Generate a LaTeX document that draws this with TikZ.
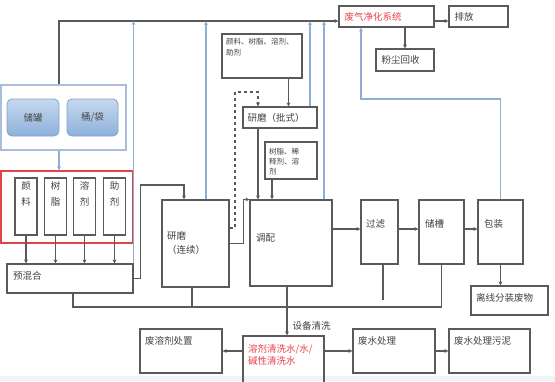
\documentclass[tikz,border=0pt]{standalone}
\usepackage{fontspec}
\newfontfamily\cjk{Noto Sans CJK SC}
\usetikzlibrary{positioning,arrows.meta,calc}
\definecolor{lngray}{HTML}{5A5A5A}
\definecolor{lnblue}{HTML}{8DAFD6}
\definecolor{frred}{HTML}{E2434B}
\definecolor{txred}{HTML}{E8404A}
\definecolor{frblue}{HTML}{A9BFD9}
\definecolor{tankedge}{HTML}{7FA2CC}
\definecolor{tanktop}{HTML}{C6D9EF}
\definecolor{tankbot}{HTML}{8EB0DA}
\definecolor{bandbg}{HTML}{EEF3F9}

\begin{document}
\begin{tikzpicture}[x=1pt,y=-1pt,>={Stealth[length=4pt,width=3.8pt]},
  font=\cjk\fontsize{9.5}{11}\selectfont,
  box/.style={draw=lngray,line width=1.1pt,inner sep=0pt},
  txt/.style={inner sep=0pt,text=black!75,align=left},
  smalltxt/.style={txt,font=\cjk\fontsize{7.5}{10.5}\selectfont},
  gline/.style={draw=lngray,line width=1.1pt},
  bline/.style={draw=lnblue,line width=1.2pt},
  dline/.style={gline,dashed},
  tank/.style={draw=tankedge,line width=0.8pt,rounded corners=5pt,top color=tanktop,bottom color=tankbot,text=black!72}]
\useasboundingbox (0,0) rectangle (555,381);
\fill[bandbg] (0,376) rectangle (555,381);

% exhaust line
\node[box,minimum width=95,minimum height=21] (fq) at (386.5,16.5) {};
\node[txt,text=txred,anchor=west] (fq-t) at ([xshift=6]fq.west) {废气净化系统};
\node[box,minimum width=59,minimum height=21] (pf) at (478.5,16.5) {};
\node[txt,anchor=west] (pf-t) at ([xshift=6]pf.west) {排放};
\node[box,minimum width=58,minimum height=22] (fc) at (405,60) {};
\node[txt,anchor=west] (fc-t) at ([xshift=6]fc.west) {粉尘回收};

% storage
\node[draw=frblue,line width=1.1pt,minimum width=125,minimum height=65] (cc) at (63.5,117.5) {};
\node[tank,minimum width=52,minimum height=37] (cg) at (33,117.5) {储罐};
\node[tank,minimum width=51,minimum height=37] (td) at (92.5,117.5) {桶/袋};

% raw materials
\node[draw=frred,line width=1.2pt,minimum width=132,minimum height=72] (hong) at (67,207) {};
\node[box,minimum width=126,minimum height=29] (yhh) at (70,278.5) {};
\node[txt,anchor=west] (yhh-t) at (13,276) {预混合};
\foreach \nm/\cx/\ta/\tb in {yl/26/颜/料, sz/55.5/树/脂, rj/84.5/溶/剂, zj/114.5/助/剂} {
  \node[box,minimum width=22,minimum height=57] (\nm) at (\cx,206.5) {};
  \node[txt,align=center,anchor=north,font=\cjk\fontsize{9.5}{16}\selectfont] (\nm-t) at ([yshift=-4]\nm.north) {\ta\\\tb};
  \draw[gline,->] (\nm.south) -- (\nm.south |- yhh.north);
}

% grinding and mixing
\node[box,minimum width=80,minimum height=44] (raw1) at (262,56) {};
\node[smalltxt,anchor=north west] (raw1-t) at (226,38) {颜料、树脂、溶剂、\\助剂};
\node[box,minimum width=74,minimum height=21] (ymp) at (280,117.5) {};
\node[txt,anchor=west] (ymp-t) at ([xshift=5]ymp.west) {研磨（批式）};
\node[box,minimum width=52,minimum height=37] (raw2) at (291,160.5) {};
\node[smalltxt,anchor=north west,font=\cjk\fontsize{7.5}{10}\selectfont] (raw2-t) at (269,148) {树脂、稀\\释剂、溶\\剂};
\node[box,minimum width=67,minimum height=87] (ymlx) at (195.5,243.5) {};
\node[txt,anchor=north west,font=\cjk\fontsize{9.5}{14}\selectfont] (ymlx-t) at (167,231) {研磨\\（连续）};
\node[box,minimum width=82,minimum height=86] (tp) at (291,243) {};
\node[txt,anchor=west] (tp-t) at (256,238) {调配};
\node[box,minimum width=37,minimum height=64] (gl) at (379.5,232) {};
\node[txt,anchor=west] (gl-t) at (366,224) {过滤};
\node[box,minimum width=45,minimum height=64] (cc2) at (441.5,232) {};
\node[txt,anchor=west] (cc2-t) at (425,224) {储槽};
\node[box,minimum width=45,minimum height=64] (bz) at (500.5,232) {};
\node[txt,anchor=west] (bz-t) at (484,224) {包装};
\node[box,minimum width=77,minimum height=29] (lx) at (509.5,300.5) {};
\node[txt,anchor=west] (lx-t) at (476,298) {离线分装废物};

% cleaning
\node[box,minimum width=81,minimum height=52] (qxs) at (283.5,362) {};
\node[txt,text=txred,anchor=north west,font=\cjk\fontsize{9.5}{12.5}\selectfont] (qxs-t) at (248,344) {溶剂清洗水/水/\\碱性清洗水};
\node[box,minimum width=82,minimum height=44] (frj) at (181,351) {};
\node[txt,anchor=west] (frj-t) at (145,341) {废溶剂处置};
\node[box,minimum width=82,minimum height=44] (fscl) at (394,351) {};
\node[txt,anchor=west] (fscl-t) at (358,341) {废水处理};
\node[box,minimum width=81,minimum height=44] (fswn) at (489.5,351) {};
\node[txt,anchor=west] (fswn-t) at (454,341) {废水处理污泥};

\coordinate (topl) at (0,21);
\coordinate (bl) at (0,307);
\coordinate (bt) at (0,99);
\coordinate (yj) at (184,185);
\coordinate (dsh) at (235,92);

% gray connectors
\draw[gline,->] ([xshift=-4.5]cc.north) |- ([yshift=-4.5]fq.west);
\draw[gline,->] ([yshift=-4.5]fq.east) -- ([yshift=-4.5]pf.west);
\draw[gline,->] (fq.south -| fc.north) -- (fc.north);
\draw[gline,->] ([xshift=-14]raw1.south east) -- ([xshift=-14]raw1.south east |- ymp.north);
\draw[dline,->] ([yshift=15.5]ymlx.east) -| (dsh) -| ([xshift=-22]ymp.north);
\draw[gline,->] ([xshift=-22]ymp.south) -- ([xshift=-22]ymp.south |- tp.north);
\draw[gline,->] ([xshift=-19]raw2.south) -- ([xshift=-19]raw2.south |- tp.north);
\draw[gline,->] (ymlx.east) -- ++(14,0) |- (tp.north west);
\draw[gline,->] (yhh.east) -- ++(7,0) |- (yj) -- (yj |- ymlx.north);
\draw[gline] ([xshift=3]yhh.south) |- (cc2.south |- bl) -- (cc2.south);
\draw[gline] ([xshift=-3.5]ymlx.south) -- ([xshift=-3.5]ymlx.south |- bl);
\draw[gline] ([xshift=3.5]gl.south) -- ++(0,35);
\draw[gline,->] ([xshift=-4]tp.south) -- ([xshift=-4]tp.south |- qxs.north)
  node[txt,pos=0.8,right=5pt] (sbqx) {设备清洗};
\draw[gline,->] (qxs.west |- frj.east) -- (frj.east);
\draw[gline,->] (qxs.east |- fscl.west) -- (fscl.west);
\draw[gline,->] (fscl.east) -- (fswn.west);
\draw[gline,->] ([yshift=3]tp.east |- gl.west) -- ([yshift=3]gl.west);
\draw[gline,->] ([yshift=3]gl.east) -- ([yshift=3]cc2.west);
\draw[gline,->] ([yshift=3]cc2.east) -- ([yshift=3]bz.west);
\draw[gline,->] (bz.south) -- (bz.south |- lx.north);

% blue connectors
\draw[bline,->] ([xshift=-4.5]cc.south) -- ([xshift=-4.5]cc.south |- hong.north);
\draw[bline,->] (yhh.north east) -- (yhh.north east |- topl);
\draw[bline,->] ([xshift=10.5]ymlx.north) -- ([xshift=10.5]ymlx.north |- topl);
\draw[bline,->] ([xshift=30]ymp.north) -- ([xshift=30]ymp.north |- topl);
\draw[bline,->] ([xshift=33]tp.north) -- ([xshift=33]tp.north |- topl);
\draw[bline,->] (bz.north) |- ([xshift=-25.5]fq.south |- bt) -- ([xshift=-25.5]fq.south);
\end{tikzpicture}
\end{document}
